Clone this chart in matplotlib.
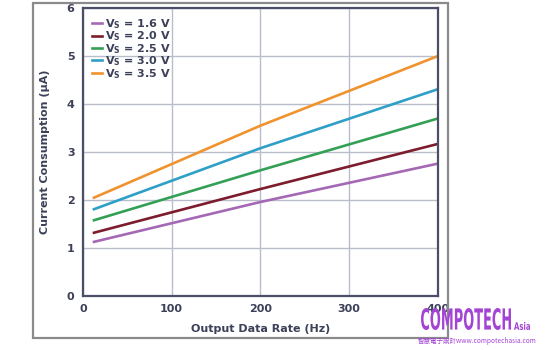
import matplotlib.pyplot as plt
from matplotlib.patches import Rectangle, PathPatch
from matplotlib.textpath import TextPath
from matplotlib.font_manager import FontProperties
from matplotlib.transforms import Affine2D

# data
rate = [12.5, 200, 400]
labels = ['1.6', '2.0', '2.5', '3.0', '3.5']
i_16 = [1.13, 1.96, 2.76]
i_20 = [1.32, 2.23, 3.17]
i_25 = [1.58, 2.62, 3.70]
i_30 = [1.81, 3.08, 4.31]
i_35 = [2.05, 3.55, 5.00]
colors = ['#a468b4', '#7c1c2c', '#33a056', '#2e9fc6', '#f0922e']

txt = '#3c4058'
wm = '#a444d4'

fig = plt.figure(figsize=(5.6, 3.5), dpi=100)
ax = fig.add_axes([0.148, 0.154, 0.634, 0.823])

for vals, lab, c in zip([i_16, i_20, i_25, i_30, i_35], labels, colors):
    ax.plot(rate, vals, color=c, lw=1.9, label='V$_\\mathbf{S}$ = ' + lab + ' V')

ax.set_xlim(0, 400)
ax.set_ylim(0, 6)
ax.set_xticks([0, 100, 200, 300, 400])
ax.set_yticks(range(7))
ax.grid(color='#b9bdcb', lw=1.0)
ax.set_axisbelow(True)
ax.tick_params(length=0, labelsize=8, labelcolor=txt, pad=6)
for t in ax.get_xticklabels() + ax.get_yticklabels():
    t.set_fontweight('bold')
for s in ax.spines.values():
    s.set_color('#4a4e66')
    s.set_linewidth(1.6)

ax.set_xlabel('Output Data Rate (Hz)', fontsize=8, fontweight='bold', color=txt, labelpad=7)
ax.set_ylabel('Current Consumption (µA)', fontsize=8, fontweight='bold', color=txt, labelpad=12)

leg = ax.legend(loc='upper left', frameon=False, handlelength=0.9,
                handletextpad=0.3, labelspacing=-0.12, borderaxespad=0.4,
                prop={'weight': 'bold', 'size': 8})
for t in leg.get_texts():
    t.set_color(txt)

# outer frame
fig.patches.append(Rectangle((33 / 560, 12 / 350), 415 / 560, 335 / 350,
                             transform=fig.transFigure, fill=False,
                             edgecolor='#8a8a8a', lw=1.6))

# watermark, drawn in a pixel-coordinate overlay
ov = fig.add_axes([0, 0, 1, 1], zorder=5)
ov.set_xlim(0, 560)
ov.set_ylim(350, 0)
ov.axis('off')


def squeezed(s, x0, x1, y0, y1):
    tp = TextPath((0, 0), s, size=10,
                  prop=FontProperties(family='DejaVu Sans', weight='bold'))
    bb = tp.get_extents()
    tr = (Affine2D().translate(-bb.x0, -bb.y0)
          .scale((x1 - x0) / bb.width, -(y1 - y0) / bb.height)
          .translate(x0, y1))
    ov.add_patch(PathPatch(tr.transform_path(tp), color=wm, lw=0))


squeezed('COMPOTECH', 421, 511, 308, 330)
squeezed('Asia', 514, 530, 322, 330)
ov.text(418, 341, '智慧電子設計www.compotechasia.com', color=wm, fontsize=4.7,
        va='center', ha='left', family=['Noto Sans CJK TC', 'DejaVu Sans'])

fig.savefig('out.png', dpi=100)
